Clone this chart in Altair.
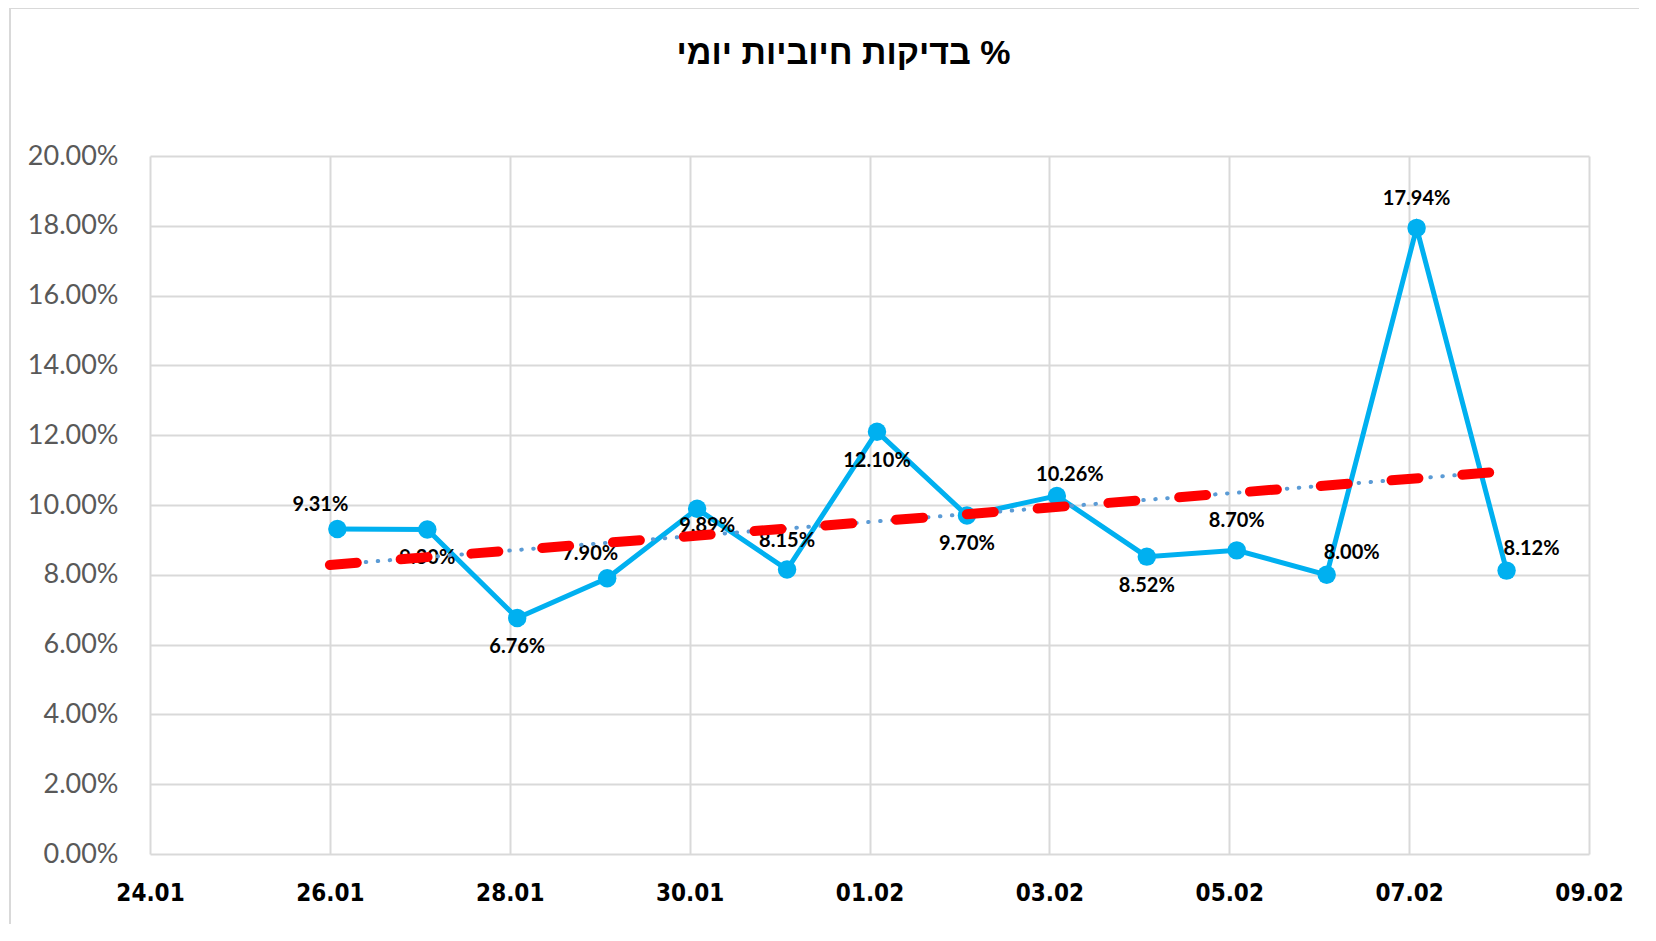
import altair as alt
import pandas as pd

# ---- data ----
dates = ["2021-01-26", "2021-01-27", "2021-01-28", "2021-01-29", "2021-01-30",
         "2021-01-31", "2021-02-01", "2021-02-02", "2021-02-03", "2021-02-04",
         "2021-02-05", "2021-02-06", "2021-02-07", "2021-02-08"]
positivity = [0.0931, 0.0930, 0.0676, 0.0790, 0.0989, 0.0815, 0.1210,
              0.0970, 0.1026, 0.0852, 0.0870, 0.0800, 0.1794, 0.0812]
label_pos = ["above-left", "below", "below", "above-left", "below-right",
             "above", "below", "below", "above-right", "below", "above", "right",
             "above", "right"]
tick_dates = ["2021-01-24", "2021-01-26", "2021-01-28", "2021-01-30",
              "2021-02-01", "2021-02-03", "2021-02-05", "2021-02-07",
              "2021-02-09"]
y_ticks = [0.0, 0.02, 0.04, 0.06, 0.08, 0.10, 0.12, 0.14, 0.16, 0.18, 0.20]

TITLE = "בדיקות חיוביות יומי %"

df = pd.DataFrame({"date": dates, "value": positivity, "pos": label_pos})


def ms(d):
    return int(pd.Timestamp(d, tz="UTC").value // 10**6)


POINT_OFFSET_MS = 2 * 3600 * 1000  # points sit slightly after midnight

x_scale = alt.Scale(type="utc", domain=[ms(tick_dates[0]), ms(tick_dates[-1])])
x_axis = alt.Axis(
    values=[ms(d) for d in tick_dates],
    labelExpr="utcFormat(datum.value, '%d.%m')",
    title=None, grid=True, domain=False, ticks=False, labelFlush=False,
    labelFont="DejaVu Sans Condensed, DejaVu Sans", labelFontWeight="bold",
    labelFontSize=24, labelColor="#000000", labelPadding=27,
    gridColor="#D9D9D9", gridWidth=2,
)
y_scale = alt.Scale(domain=[0, 0.2])
y_axis = alt.Axis(
    values=y_ticks, format=".2%", title=None, grid=True, domain=False,
    ticks=False, labelFlush=False, labelFont="Lato", labelFontSize=27,
    labelColor="#595959", labelPadding=32, gridColor="#D9D9D9", gridWidth=2,
)


def xe(field):
    return alt.X(f"{field}:T", scale=x_scale, axis=x_axis)


ye = alt.Y("value:Q", scale=y_scale, axis=y_axis)

base = alt.Chart(df).transform_calculate(
    t="time(toDate(datum.date))",
).transform_calculate(
    tp=f"datum.t + {POINT_OFFSET_MS}",
)

line = base.mark_line(color="#00B0F0", strokeWidth=5).encode(x=xe("tp"), y=ye)
points = base.mark_circle(color="#00B0F0", size=340, opacity=1).encode(x=xe("tp"), y=ye)

label_style = dict(font="Lato", fontWeight="bold", fontSize=20, color="#000000",
                   baseline="middle", align="center")
offsets = {
    "above": (0, -29),
    "above-left": (-17, -24),
    "above-right": (13, -21),
    "below": (0, 29),
    "below-right": (10, 17),
    "right": (25, -22),
}
labels = []
for pos, (dx, dy) in offsets.items():
    labels.append(
        base.transform_filter(alt.datum.pos == pos)
        .mark_text(dx=dx, dy=dy, **label_style)
        .encode(x=xe("tp"), y=ye, text=alt.Text("value:Q", format=".2%"))
    )

trend_base = base.transform_regression("t", "value", method="linear")
trend_dots = trend_base.mark_line(
    color="#5B9BD5", strokeWidth=4, strokeDash=[0.5, 11.5], strokeCap="round"
).encode(x=xe("t"), y=ye)
trend_red = trend_base.mark_line(
    color="#FF0000", strokeWidth=10, strokeDash=[27, 44], strokeCap="round"
).encode(x=xe("t"), y=ye)

frame_df = pd.DataFrame({"k": [0]})
frame_top = alt.Chart(frame_df).mark_rule(color="#D9D9D9", strokeWidth=2).encode(
    x=alt.value(-140), x2=alt.value(1520), y=alt.value(-148)
)
frame_left = alt.Chart(frame_df).mark_rule(color="#D9D9D9", strokeWidth=2).encode(
    x=alt.value(-140), y=alt.value(-148), y2=alt.value(800)
)

chart = alt.layer(
    frame_top, frame_left, line, points, *labels, trend_dots, trend_red
).properties(
    width=1439,
    height=698,
    autosize=alt.AutoSizeParams(type="none"),
    padding={"left": 142, "top": 148, "right": 50, "bottom": 70},
    title=alt.TitleParams(
        TITLE, font="Liberation Sans", fontWeight="bold", fontSize=34,
        color="#000000", anchor="middle", frame="group", dx=-26, dy=64,
        offset=0,
    ),
).configure_view(stroke=None)

chart.save("out.html", embed_options={"renderer": "svg", "actions": False})
